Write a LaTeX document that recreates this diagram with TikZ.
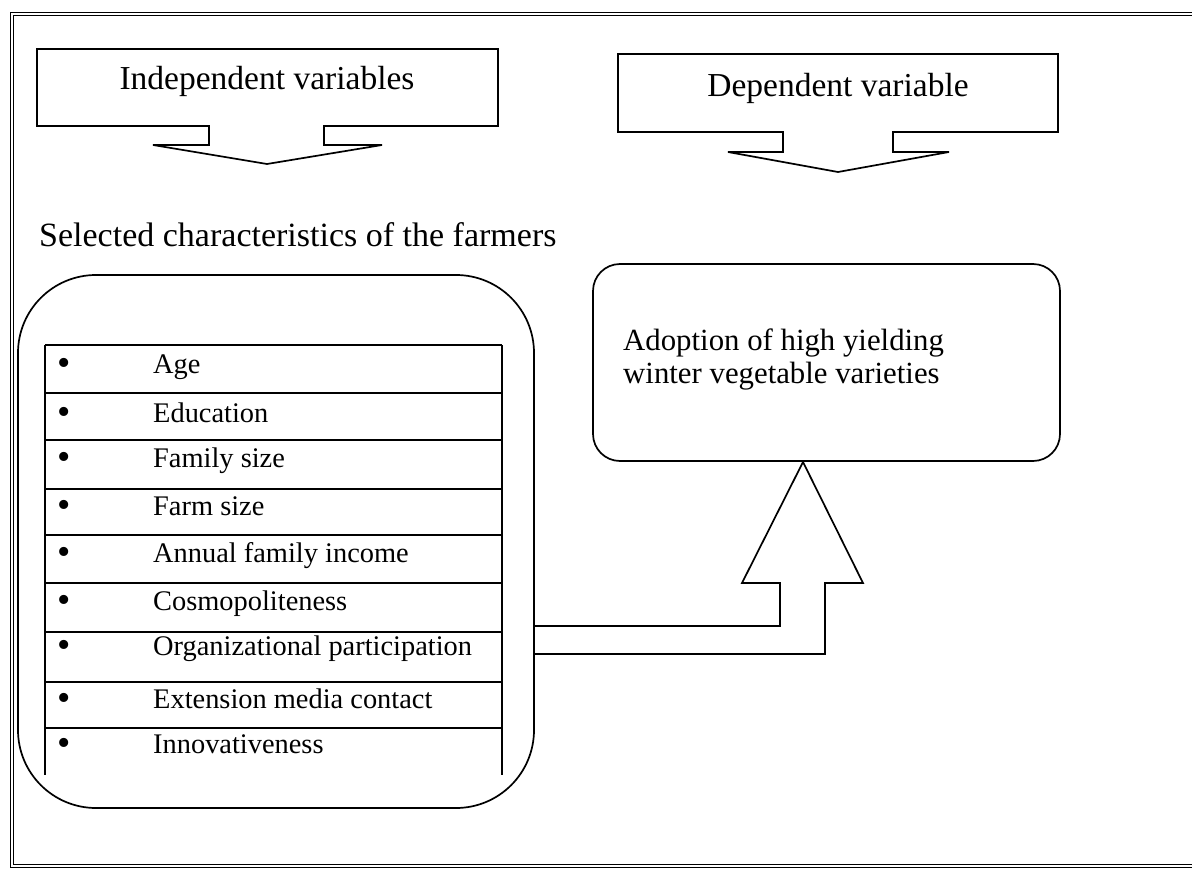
\documentclass[tikz,border=0pt]{standalone}
\usepackage{fontspec}
\setmainfont{Liberation Serif}
\begin{document}
\begin{tikzpicture}[x=1pt,y=-1pt,
  outline/.style={line width=1.7pt, line join=miter},
  title/.style={font=\fontsize{33.5}{40}\selectfont, anchor=base, inner sep=0},
  itemtext/.style={font=\fontsize{28.4}{32}\selectfont, anchor=base west, inner sep=0},
  bul/.style={font=\fontsize{38}{40}\selectfont, anchor=base, inner sep=0},
  rule/.style={line width=1.4pt}]
\useasboundingbox (0,0) rectangle (1192,870);
\fill[white] (0,0) rectangle (1192,870);
% outer frame
\draw[double, line width=1.3pt, double distance=2pt] (1192,14) -- (12,14) -- (12,866) -- (1192,866);

% independent variables block arrow
\draw[outline] (37,49) -- (498,49) -- (498,126) -- (324,126) -- (324,145) -- (382,145)
  -- (267,164) -- (153,145) -- (209,145) -- (209,126) -- (37,126) -- cycle;
\node[title] (indep) at (267,89) {Independent variables};

% dependent variable block arrow
\draw[outline] (618,54) -- (1058,54) -- (1058,132) -- (893,132) -- (893,152) -- (949,152)
  -- (838,172) -- (728,152) -- (783,152) -- (783,132) -- (618,132) -- cycle;
\node[title] (dep) at (838,96) {Dependent variable};

\node[font=\fontsize{34}{40}\selectfont, anchor=base west, inner sep=0] (sel) at (39,246)
  {Selected characteristics of the farmers};

% big rounded box
\node[draw, line width=1.7pt, rounded corners=78pt, minimum width=516pt, minimum height=533pt,
  inner sep=0, outer sep=0] (traits) at (276,541.5) {};

% table
\foreach \yy in {345,393,440,489,535,583,632,682,728}
  \draw[rule] (45,\yy) -- (502,\yy);
\draw[rule] (45,345) -- (45,775);
\draw[rule] (502,345) -- (502,775);

\foreach \b/\t [count=\i] in {373/Age, 422/Education, 467/Family size, 515/Farm size,
  562/Annual family income, 610/Cosmopoliteness, 655/Organizational participation,
  708/Extension media contact, 753/Innovativeness} {
  \node[bul] (bullet\i) at (64,\b+2) {•};
  \node[itemtext] (item\i) at (153,\b) {\t};
}

% right rounded box
\node[draw, line width=1.7pt, rounded corners=27pt, minimum width=467pt, minimum height=197pt,
  inner sep=0, outer sep=0] (adopt) at (826.5,362.5) {};
\node[font=\fontsize{30.8}{33}\selectfont, anchor=base west, inner sep=0] (adoptA) at (623,350)
  {Adoption of high yielding};
\node[font=\fontsize{30.8}{33}\selectfont, anchor=base west, inner sep=0] (adoptB) at (623,383)
  {winter vegetable varieties};

% bent block arrow from traits box to adoption box
\draw[outline] (traits.east |- 0,626) -- (780,626) -- (780,583) -- (742,583) -- (803,462)
  -- (863,583) -- (825,583) -- (825,654) -- (traits.east |- 0,654);
\end{tikzpicture}
\end{document}
